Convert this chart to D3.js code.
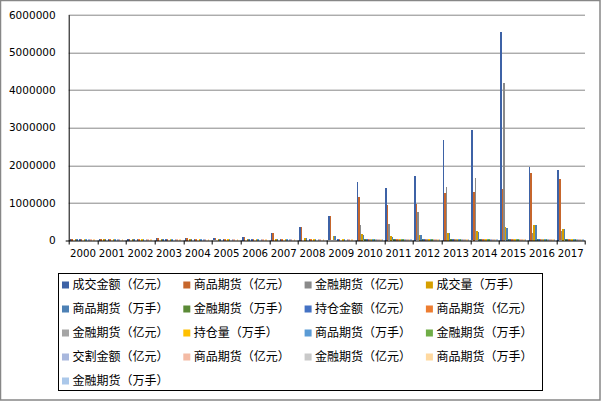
<!DOCTYPE html>
<html>
<head>
<meta charset="utf-8">
<script src="https://cdn.jsdelivr.net/npm/d3@7"></script>
<style>
body { margin: 0; background: #fff; }
#plotDiv { width: 601px; height: 401px; }
.tick text { font-family: "DejaVu Sans", Verdana, sans-serif; fill: #000; }
.legend text { font-family: "Noto Sans CJK SC", sans-serif; font-size: 12px; fill: #000; }
</style>
</head>
<body>
<div id="plotDiv"></div>
<script>
var years = ["2000","2001","2002","2003","2004","2005","2006","2007","2008",
             "2009","2010","2011","2012","2013","2014","2015","2016","2017"];

var seriesNames = ["成交金额（亿元）","商品期货（亿元）","金融期货（亿元）","成交量（万手）",
                   "商品期货（万手）","金融期货（万手）","持仓金额（亿元）","商品期货（亿元）",
                   "金融期货（亿元）","持仓量（万手）","商品期货（万手）","金融期货（万手）",
                   "交割金额（亿元）","商品期货（亿元）","金融期货（亿元）","商品期货（万手）",
                   "金融期货（万手）"];

var seriesColors = ["#3d62a6","#c6662c","#8a8a8a","#d69f00","#4d81b5","#5b8a36",
                    "#4472c4","#ed7d31","#a5a5a5","#ffc000","#5b9bd5","#70ad47",
                    "#a9b8dd","#f4bba5","#c9c9c9","#ffd9a0","#abc8ea"];

var yTicks = [0, 1000000, 2000000, 3000000, 4000000, 5000000, 6000000];

// 成交
var turnoverTotal = [8041,15073,19745,54199,73468,67231,105033,204870,359571,
                     650458,1556000,1396000,1715000,2670000,2940000,5545000,1955000,1875000];
var turnoverCommodity = [8041,15073,19745,54199,73468,67231,105033,204870,359571,
                         650458,1157000,944000,965000,1263000,1290000,1370000,1795000,1640000];
var turnoverFinancial = [0,0,0,0,0,0,0,0,0,
                         0,410000,439000,758000,1410000,1660000,4190000,200000,250000];
var volumeTotal = [2731,6023,6973,13991,15284,16224,22468,36353,68248,
                   107839,160000,110000,145000,200000,250000,359000,410000,307000];
var volumeCommodity = [2731,6023,6973,13991,15284,16224,22468,36353,68248,
                       107839,155000,105000,138000,190000,230000,340000,410000,303000];
var volumeFinancial = [0,0,0,0,0,0,0,0,0,
                       0,4600,5000,10500,19400,21700,34000,3000,4000];
// 持仓
var oiValueTotal = [100,150,200,450,620,550,800,1700,2100,
                    3600,4500,3900,5600,7000,8500,9400,9600,9300];
var oiValueCommodity = [100,150,200,450,620,550,800,1700,2100,
                        3600,3700,3300,4100,4700,5600,6700,8200,7600];
var oiValueFinancial = [0,0,0,0,0,0,0,0,0,
                        0,800,600,1500,2300,2900,2700,1400,1700];
var oiTotal = [40,55,70,110,130,140,170,250,300,
               400,440,480,580,700,820,960,1220,1200];
var oiCommodity = [40,55,70,110,130,140,170,250,300,
                   400,436,472,572,690,800,930,1200,1180];
var oiFinancial = [0,0,0,0,0,0,0,0,0,
                   0,4,8,8,10,20,30,20,20];
// 交割
var deliveryValueTotal = [450,300,150,250,300,200,300,450,350,
                          250,300,350,500,600,700,900,1500,1900];
var deliveryValueCommodity = [450,300,150,250,300,200,300,450,350,
                              250,280,330,480,570,660,860,1470,1860];
var deliveryValueFinancial = [0,0,0,0,0,0,0,0,0,
                              0,20,20,20,30,40,40,30,40];
var deliveryVolCommodity = [20,15,10,15,15,10,20,30,20,
                            15,20,25,30,40,50,60,90,100];
var deliveryVolFinancial = [0,0,0,0,0,0,0,0,0,
                            0,1,1,1,1,2,2,1,2];

var seriesValues = [turnoverTotal, turnoverCommodity, turnoverFinancial,
                    volumeTotal, volumeCommodity, volumeFinancial,
                    oiValueTotal, oiValueCommodity, oiValueFinancial,
                    oiTotal, oiCommodity, oiFinancial,
                    deliveryValueTotal, deliveryValueCommodity, deliveryValueFinancial,
                    deliveryVolCommodity, deliveryVolFinancial];

window.addEventListener("load", makeChart)

function makeChart() {
    var width = 601, height = 401;
    var margin = {top: 14.7, right: 16, bottom: 160.5, left: 68.7};
    var plotW = width - margin.left - margin.right;
    var plotH = height - margin.top - margin.bottom;

    var svg = d3.select("#plotDiv")
        .append("svg")
        .attr("width", width)
        .attr("height", height);

    // chart border
    svg.append("rect")
        .attr("x", 0.5).attr("y", 0.5)
        .attr("width", 599.5).attr("height", 399.5)
        .attr("fill", "#fff")
        .attr("stroke", "#878787")
        .attr("stroke-width", 1.5);

    var g = svg.append("g")
        .attr("transform", "translate(" + margin.left + "," + margin.top + ")");

    var x0 = d3.scaleBand()
        .domain(years)
        .range([0, plotW]);

    var seriesIdx = d3.range(seriesNames.length);
    var x1 = d3.scaleBand()
        .domain(seriesIdx)
        .range([0, x0.bandwidth()])
        .paddingOuter(0.75);

    var y = d3.scaleLinear()
        .domain([0, 6000000])
        .range([plotH, 0]);

    // gridlines
    g.append("g")
        .selectAll("line")
        .data(yTicks.slice(1))
        .enter()
        .append("line")
          .attr("x1", 0)
          .attr("x2", plotW)
          .attr("y1", function(d) { return Math.round(y(d)) + 0.5; })
          .attr("y2", function(d) { return Math.round(y(d)) + 0.5; })
          .attr("stroke", "#878787")
          .attr("stroke-width", 1);

    // bars (tiny values still get a visible stub, like the original)
    var groups = g.append("g")
        .selectAll("g")
        .data(years)
        .enter()
        .append("g")
          .attr("transform", function(d) { return "translate(" + x0(d) + ",0)"; });

    groups.selectAll("rect")
        .data(function(d, i) {
            return seriesIdx.map(function(s) { return {s: s, v: seriesValues[s][i]}; });
        })
        .enter()
        .append("rect")
          .filter(function(d) { return d.v > 0; })
          .attr("x", function(d) { return x1(d.s); })
          .attr("width", x1.bandwidth())
          .attr("y", function(d) { return Math.min(y(d.v), plotH - 2); })
          .attr("height", function(d) { return Math.max(plotH - y(d.v), 2); })
          .attr("fill", function(d) { return seriesColors[d.s]; })
          .attr("shape-rendering", "crispEdges");

    // y axis
    var yAxis = g.append("g")
        .call(d3.axisLeft(y).tickValues(yTicks).tickFormat(d3.format("d")).tickSize(0).tickPadding(13));
    yAxis.select(".domain").attr("stroke", "#000");
    yAxis.selectAll(".tick text").attr("font-size", "10.5px");

    // x axis
    var xAxis = g.append("g")
        .attr("transform", "translate(0," + plotH + ")")
        .call(d3.axisBottom(x0).tickSize(0).tickPadding(9));
    xAxis.select(".domain").remove();
    xAxis.selectAll(".tick text").attr("font-size", "10.2px");

    g.append("line")
        .attr("x1", -3).attr("x2", plotW)
        .attr("y1", plotH + 0.5).attr("y2", plotH + 0.5)
        .attr("stroke", "#000");

    g.append("g")
        .selectAll("line")
        .data(d3.range(years.length + 1))
        .enter()
        .append("line")
          .attr("x1", function(d) { return Math.round(d * x0.step()) + 0.5; })
          .attr("x2", function(d) { return Math.round(d * x0.step()) + 0.5; })
          .attr("y1", plotH)
          .attr("y2", plotH + 4)
          .attr("stroke", "#000");

    // legend
    var legend = svg.append("g").attr("class", "legend");
    legend.append("rect")
        .attr("x", 58.5).attr("y", 273.5)
        .attr("width", 484).attr("height", 117)
        .attr("fill", "none")
        .attr("stroke", "#000");

    var items = legend.selectAll("g.item")
        .data(seriesNames)
        .enter()
        .append("g")
          .attr("class", "item")
          .attr("transform", function(d, i) {
              return "translate(" + (62 + (i % 4) * 121.3) + "," + (285 + Math.floor(i / 4) * 24) + ")";
          });

    items.append("rect")
        .attr("x", 0).attr("y", -3.5)
        .attr("width", 7).attr("height", 7)
        .attr("fill", function(d, i) { return seriesColors[i]; });

    items.append("text")
        .attr("x", 10.5)
        .attr("dy", "0.35em")
        .text(function(d) { return d; });
}
</script>
</body>
</html>
